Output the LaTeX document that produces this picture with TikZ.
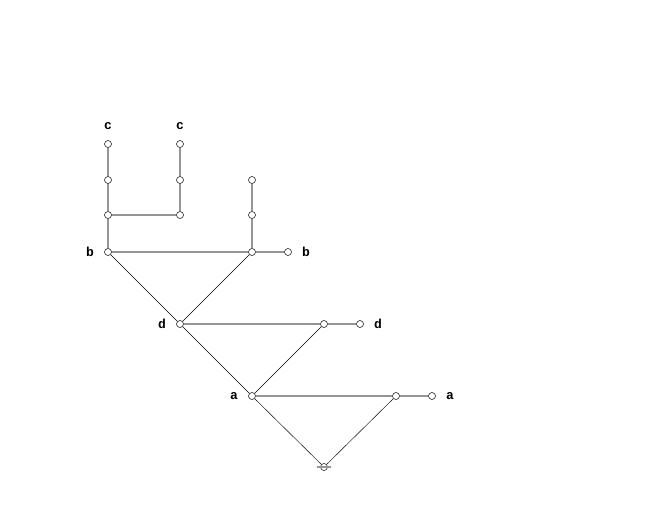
\documentclass[tikz,border=0pt]{standalone}
\usepackage{fontspec}
\newfontfamily\labfont{Liberation Mono}
\begin{document}
\begin{tikzpicture}[x=1pt,y=-1pt,
  vtx/.style={circle,draw=black,line width=0.5pt,fill=white,inner sep=0pt,minimum size=7pt},
  lab/.style={font=\labfont\bfseries\fontsize{13}{13}\selectfont,inner sep=0pt},
  tree/.style={draw={rgb,255:red,150;green,150;blue,150},line width=1.3pt},
  diag/.style={draw=black,line width=0.45pt}]
\useasboundingbox (0,0) rectangle (648,504);
\node[vtx] (n1) at (108,144) {};
\node[vtx] (n2) at (180,144) {};
\node[vtx] (n3) at (108,180) {};
\node[vtx] (n4) at (180,180) {};
\node[vtx] (n5) at (252,180) {};
\node[vtx] (n6) at (108,215) {};
\node[vtx] (n7) at (180,215) {};
\node[vtx] (n8) at (252,215) {};
\node[vtx] (b1) at (108,252) {};
\node[vtx] (b2) at (252,252) {};
\node[vtx] (b3) at (288,252) {};
\node[vtx] (d1) at (180,324) {};
\node[vtx] (d2) at (324,324) {};
\node[vtx] (d3) at (360,324) {};
\node[vtx] (a1) at (252,396) {};
\node[vtx] (a2) at (396,396) {};
\node[vtx] (a3) at (432,396) {};
\node[vtx] (r) at (324,467) {};
\coordinate (rl) at (317,467);
\coordinate (rr) at (331,467);
\node[lab] (lc1) at (108,126) {c};
\node[lab] (lc2) at (180,126) {c};
\node[lab] (lb1) at (90,252) {b};
\node[lab] (lb2) at (306,252) {b};
\node[lab] (ld1) at (162,324) {d};
\node[lab] (ld2) at (378,324) {d};
\node[lab] (la1) at (234,396) {a};
\node[lab] (la2) at (450,396) {a};
\path[tree] (n1)--(n3) (n3)--(n6) (n2)--(n4) (n4)--(n7) (n6)--(n7) (n6)--(b1)
  (n5)--(n8) (n8)--(b2) (b1)--(b2) (b2)--(b3) (d1)--(d2) (d2)--(d3)
  (a1)--(a2) (a2)--(a3);
\path[diag] (b1)--(d1) (b2)--(d1) (d1)--(a1) (d2)--(a1) (a1)--(r) (a2)--(r);
\path[tree] (rl)--(rr);
\end{tikzpicture}
\end{document}
